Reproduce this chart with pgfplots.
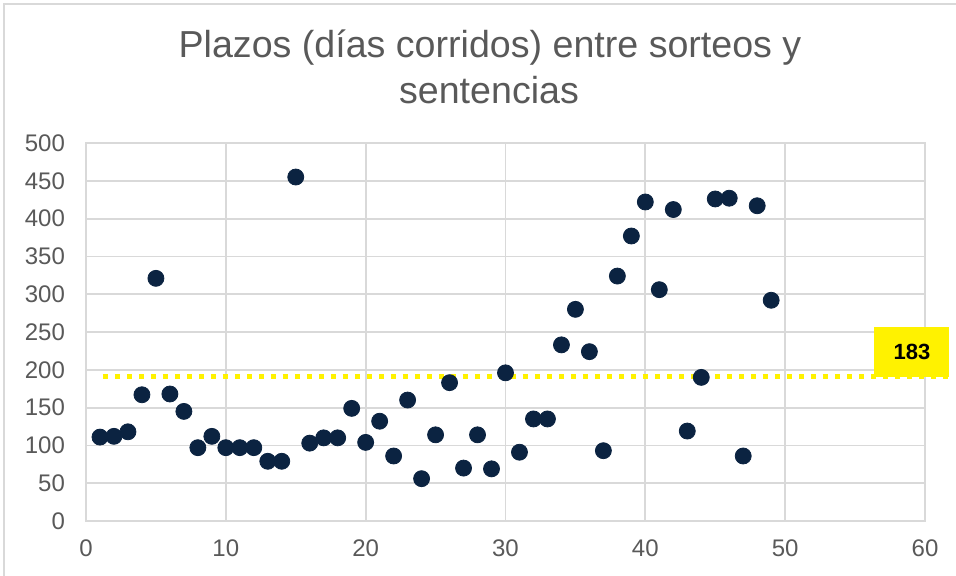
\documentclass[border=0pt]{standalone}
\usepackage{pgfplots}
\pgfplotsset{compat=1.18}
\usepackage{fontspec}
\setmainfont{Liberation Sans}
\definecolor{navy}{HTML}{0B2341}
\definecolor{gridc}{HTML}{D9D9D9}
\definecolor{txt}{HTML}{595959}
\begin{document}
\begin{tikzpicture}
\path[use as bounding box] (-43pt,-27pt) rectangle (435pt,260.5pt);
\begin{axis}[
  at={(0pt,0pt)}, anchor=south west,
  scale only axis, width=419.5pt, height=189pt,
  xmin=0, xmax=60, ymin=0, ymax=500,
  xtick={0,10,...,60}, ytick={0,50,...,500},
  grid=major,
  major grid style={gridc, line width=0.9pt},
  axis line style={gridc, line width=0.9pt},
  major tick length=0pt,
  tick label style={font=\fontsize{12}{14}\selectfont, text=txt},
  /pgf/number format/assume math mode=true,
  yticklabel style={xshift=-7pt},
  xticklabel style={yshift=-6pt},
  clip=false,
]
\addplot[only marks, mark=*, mark size=4pt, mark options={fill=navy, draw=navy}] coordinates {
(1,111) (2,112) (3,118) (4,167) (5,321) (6,168) (7,145) (8,97) (9,112) (10,97)
(11,97) (12,97) (13,79) (14,79) (15,455) (16,103) (17,110) (18,110) (19,149) (20,104)
(21,132) (22,86) (23,160) (24,56) (25,114) (26,183) (27,70) (28,114) (29,69) (30,196)
(31,91) (32,135) (33,135) (34,233) (35,280) (36,224) (37,93) (38,324) (39,377) (40,422)
(41,306) (42,412) (43,119) (44,190) (45,426) (46,427) (47,86) (48,417) (49,292)
};
\addplot[yellow, line width=2.5pt, dash pattern=on 2.5pt off 3.5pt] coordinates {(1.2,191) (62.0,191)}
  node[pos=1, anchor=south east, xshift=-0.5pt, yshift=-1.5pt, fill=yellow, minimum width=37.5pt, minimum height=25pt, inner sep=0pt, font=\fontsize{11}{13}\selectfont\bfseries, text=black] {183};
\end{axis}
\node[text=txt, font=\fontsize{18.8}{22}\selectfont] at (202pt,236.5pt) {Plazos (días corridos) entre sorteos y};
\node[text=txt, font=\fontsize{18.8}{22}\selectfont] at (201.5pt,215.5pt) {sentencias};
\draw[gridc, line width=1pt] (-41pt,-40pt) rectangle (450pt,258.5pt);
\end{tikzpicture}
\end{document}
